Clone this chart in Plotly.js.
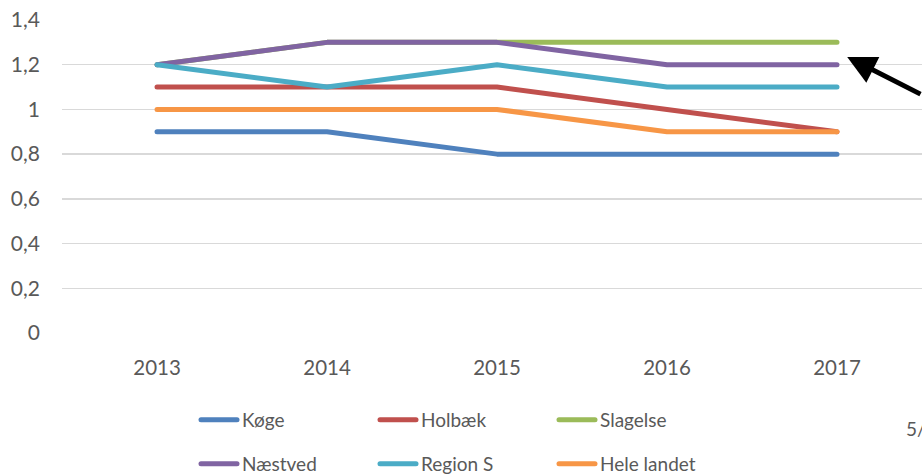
<!DOCTYPE html>
<html><head><meta charset="utf-8">
<script src="https://cdn.plot.ly/plotly-3.0.1.min.js"></script>
<style>html,body{margin:0;padding:0;background:#fff}#chart{width:922px;height:476px}</style>
</head><body><div id="chart"></div>
<script>
const years = ['2013','2014','2015','2016','2017'];
const seriesNames = ['Køge','Holbæk','Slagelse','Næstved','Region S','Hele landet'];
const koge = [0.9,0.9,0.8,0.8,0.8];
const holbaek = [1.1,1.1,1.1,1.0,0.9];
const slagelse = [1.2,1.3,1.3,1.3,1.3];
const naestved = [1.2,1.3,1.3,1.2,1.2];
const regionS = [1.2,1.1,1.2,1.1,1.1];
const heleLandet = [1.0,1.0,1.0,0.9,0.9];
const yTicks = [0,0.2,0.4,0.6,0.8,1,1.2,1.4];
const yTickText = ['0','0,2','0,4','0,6','0,8','1','1,2','1,4'];

const colors = ['#4F81BD','#C0504D','#9BBB59','#8064A2','#4BACC6','#F79646'];
const values = [koge,holbaek,slagelse,naestved,regionS,heleLandet];
const FONT = 'Lato, "Open Sans", sans-serif';

const traces = values.map((v,i)=>({
  type:'scatter', mode:'lines', x:years.map((_,k)=>k), y:v, name:seriesNames[i],
  line:{color:colors[i], width:5},
  legend: i<3 ? 'legend' : 'legend2',
  hoverinfo:'skip'
}));

const legendCommon = {
  orientation:'h', xanchor:'left', yanchor:'middle',
  entrywidth:128, entrywidthmode:'pixels', itemwidth:36,
  font:{family:FONT, size:19, color:'#595959'}, bgcolor:'rgba(0,0,0,0)'
};

const layout = {
  width:922, height:476,
  margin:{l:62, r:0, t:20, b:143, autoexpand:false},
  paper_bgcolor:'#fff', plot_bgcolor:'#fff',
  showlegend:true,
  xaxis:{
    range:[-0.559,4.5], tickvals:[0,1,2,3,4], ticktext:years,
    showgrid:false, zeroline:false, showline:false, ticks:'',
    ticklabelstandoff:20, automargin:false,
    tickfont:{family:FONT, size:20.5, color:'#595959'}, fixedrange:true
  },
  yaxis:{
    range:[0,1.4], tickvals:yTicks, ticktext:yTickText,
    showgrid:true, gridcolor:'#D9D9D9', gridwidth:1.5, zeroline:false, showline:false, ticks:'',
    ticklabelstandoff:21, automargin:false,
    tickfont:{family:FONT, size:21, color:'#595959'}, fixedrange:true
  },
  legend:Object.assign({x:(196-62)/860, y:(333-420)/313}, legendCommon),
  legend2:Object.assign({x:(196-62)/860, y:(333-464)/313}, legendCommon),
  annotations:[
    {x:4.06, y:1.235, xref:'x', yref:'y', text:'', showarrow:true,
     arrowhead:2, arrowsize:1.15, arrowwidth:5, arrowcolor:'#000',
     ax:90, ay:38, axref:'pixel', ayref:'pixel'},
    {x:(904-62)/860, y:(333-428)/313, xref:'paper', yref:'paper', xanchor:'left', yanchor:'middle',
     text:'5/', showarrow:false, font:{family:FONT, size:19, color:'#595959'}}
  ]
};

Plotly.newPlot('chart', traces, layout, {displayModeBar:false, staticPlot:true}).then(gd=>{
  gd.querySelectorAll('.js-line, .legendlines path').forEach(p=>{
    p.style.strokeLinecap='round'; p.style.strokeLinejoin='round';
  });
});
</script></body></html>
